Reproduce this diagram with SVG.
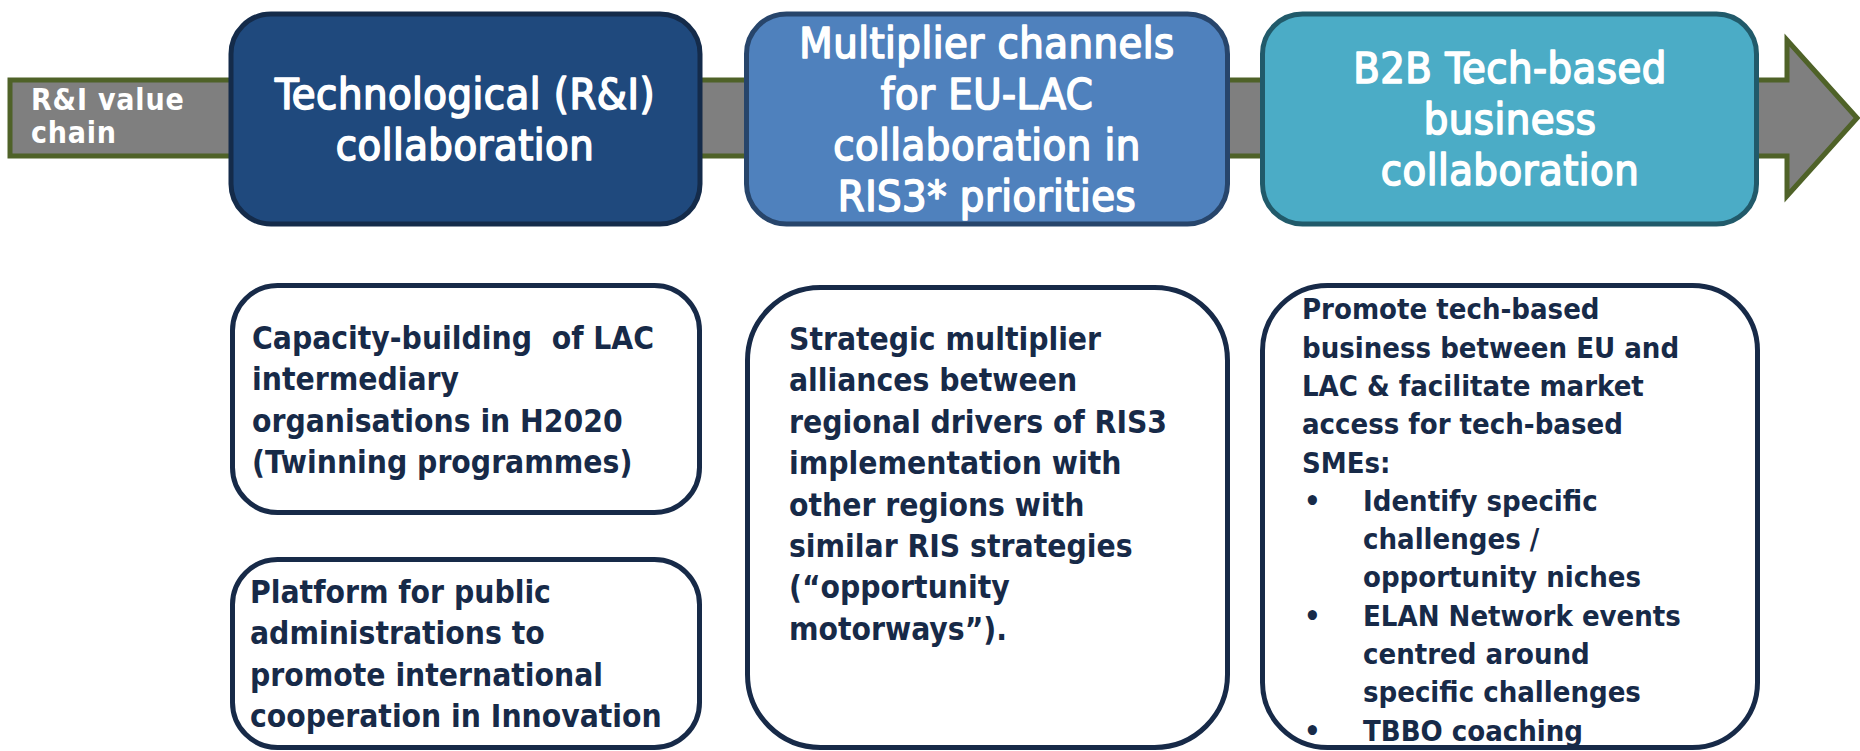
<svg xmlns="http://www.w3.org/2000/svg" width="1860" height="751" viewBox="0 0 1860 751">
<style>
.hdr{font-family:"DejaVu Sans Condensed","DejaVu Sans",sans-serif;font-size:43px;fill:#ffffff;stroke:#ffffff;stroke-width:1.6px;stroke-linejoin:round;text-anchor:middle;letter-spacing:0.5px}
.body{font-family:"DejaVu Sans Condensed","DejaVu Sans",sans-serif;font-size:31.5px;font-weight:bold;fill:#172a48}
.body7{font-family:"DejaVu Sans Condensed","DejaVu Sans",sans-serif;font-size:29px;font-weight:bold;fill:#172a48}
.lbl{font-family:"DejaVu Sans Condensed","DejaVu Sans",sans-serif;font-size:30px;font-weight:bold;fill:#ffffff;letter-spacing:0.8px}
.wbox{fill:#ffffff;stroke:#172a48;stroke-width:5}
</style>
<g id="connectors">
<polygon id="value-chain-arrow" points="10,80 1787,80 1787,40 1857,118 1787,196 1787,156 10,156" fill="#7f7f7f" stroke="#4f6228" stroke-width="5" stroke-linejoin="miter"/>
</g>
<g id="label-value-chain">
<text class="lbl" x="31" y="110">R&amp;I value</text>
<text class="lbl" x="31" y="143">chain</text>
</g>
<g id="hdr-technological">
<rect x="231" y="14" width="469" height="210" rx="40" fill="#1f497d" stroke="#142b4a" stroke-width="5"/>
<text class="hdr" x="465" y="109">Technological (R&amp;I)</text>
<text class="hdr" x="465" y="160">collaboration</text>
</g>
<g id="hdr-multiplier">
<rect x="746.5" y="14" width="481" height="210" rx="40" fill="#4f81bd" stroke="#27456b" stroke-width="5"/>
<text class="hdr" x="987" y="58">Multiplier channels</text>
<text class="hdr" x="987" y="109">for EU-LAC</text>
<text class="hdr" x="987" y="160">collaboration in</text>
<text class="hdr" x="987" y="211">RIS3* priorities</text>
</g>
<g id="hdr-b2b">
<rect x="1262.5" y="14" width="494" height="210" rx="40" fill="#4bacc6" stroke="#215a6a" stroke-width="5"/>
<text class="hdr" x="1510" y="83">B2B Tech-based</text>
<text class="hdr" x="1510" y="134">business</text>
<text class="hdr" x="1510" y="185">collaboration</text>
</g>
<g id="box-capacity">
<rect class="wbox" x="232.5" y="285.5" width="467" height="227" rx="45"/>
<text class="body" x="252" y="349">Capacity-building &#160;of LAC</text>
<text class="body" x="252" y="390">intermediary</text>
<text class="body" x="252" y="432">organisations in H2020</text>
<text class="body" x="252" y="473">(Twinning programmes)</text>
</g>
<g id="box-platform">
<rect class="wbox" x="232.5" y="559.5" width="467" height="188" rx="45"/>
<text class="body" x="250" y="603">Platform for public</text>
<text class="body" x="250" y="644">administrations to</text>
<text class="body" x="250" y="686">promote international</text>
<text class="body" x="250" y="727">cooperation in Innovation</text>
</g>
<g id="box-strategic">
<rect class="wbox" x="747.5" y="287.5" width="480" height="460" rx="73"/>
<text class="body" x="789" y="350">Strategic multiplier</text>
<text class="body" x="789" y="391">alliances between</text>
<text class="body" x="789" y="433">regional drivers of RIS3</text>
<text class="body" x="789" y="474">implementation with</text>
<text class="body" x="789" y="516">other regions with</text>
<text class="body" x="789" y="557">similar RIS strategies</text>
<text class="body" x="789" y="598">(“opportunity</text>
<text class="body" x="789" y="640">motorways”).</text>
</g>
<g id="box-promote">
<rect class="wbox" x="1262.5" y="285.5" width="495" height="462" rx="65"/>
<text class="body7" x="1302" y="319">Promote tech-based</text>
<text class="body7" x="1302" y="358">business between EU and</text>
<text class="body7" x="1302" y="396">LAC &amp; facilitate market</text>
<text class="body7" x="1302" y="434">access for tech-based</text>
<text class="body7" x="1302" y="473">SMEs:</text>
<text class="body7" x="1304" y="511">•</text>
<text class="body7" x="1363" y="511">Identify specific</text>
<text class="body7" x="1363" y="549">challenges /</text>
<text class="body7" x="1363" y="587">opportunity niches</text>
<text class="body7" x="1304" y="626">•</text>
<text class="body7" x="1363" y="626">ELAN Network events</text>
<text class="body7" x="1363" y="664">centred around</text>
<text class="body7" x="1363" y="702">specific challenges</text>
<text class="body7" x="1304" y="741">•</text>
<text class="body7" x="1363" y="741">TBBO coaching</text>
</g>
</svg>
